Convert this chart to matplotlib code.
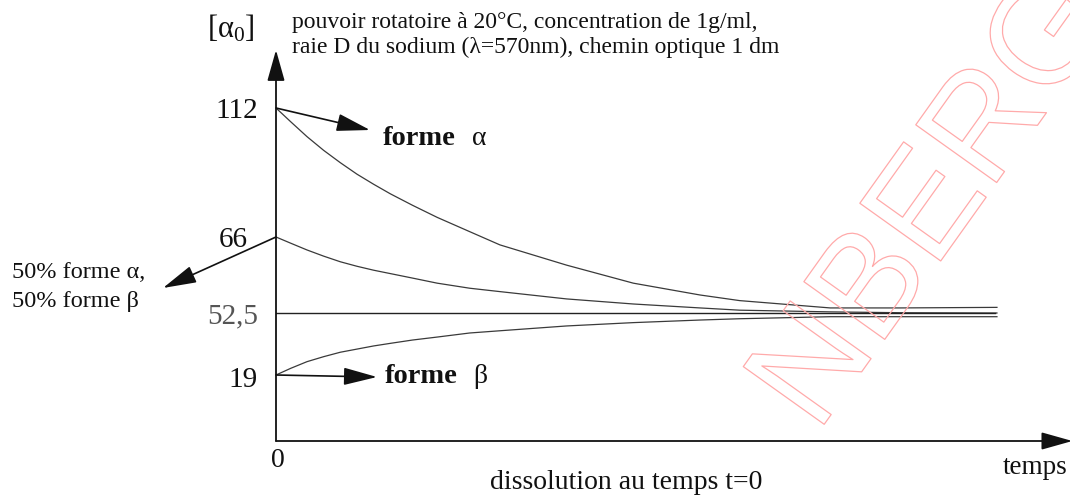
import matplotlib
matplotlib.use("Agg")
import matplotlib.pyplot as plt
import matplotlib.patheffects as pe
import numpy as np

plt.rcParams['font.family'] = ['Liberation Serif', 'DejaVu Serif']
plt.rcParams['mathtext.fontset'] = 'custom'
plt.rcParams['mathtext.rm'] = 'Liberation Serif'

# time after dissolution (arbitrary units) and specific rotation
t = [0, 0.185, 0.39, 0.60, 0.81, 1.02, 1.23, 1.44, 1.72, 2.03, 2.44, 2.82,
     3.66, 4.50, 5.34, 5.84, 6.98, 7.86, 9.08]
alpha_form = [112, 107.1, 101.8, 96.9, 92.5, 88.4, 84.8, 81.4, 77.3, 73.0, 67.9, 64.6,
              61.0, 57.8, 55.7, 54.7, 53.4, 53.4, 53.5]
mix_form = [66, 64.9, 63.7, 62.6, 61.6, 60.8, 60.1, 59.5, 58.7, 57.8, 56.9, 56.3,
            55.0, 54.1, 53.4, 53.0, 52.7, 52.55, 52.5]
beta_form = [19, 22.6, 26.2, 28.9, 31.3, 33.0, 34.7, 36.1, 37.9, 39.5, 41.7, 42.9,
             45.5, 47.3, 48.7, 49.4, 50.5, 50.5, 50.5]
equilibrium = 52.5
t_end = 9.06

tick_vals = [112, 66, 52.5, 19]
tick_labels = ["112", "66", "52,5", "19"]

W, H = 1070, 497

# the sketch is not to scale on the vertical axis: piecewise linear scale
scale_vals = [0, 19, 52.5, 66, 112, 150]
scale_pos = [0, 66, 128, 204, 333, 439.6]
fwd = lambda v: np.interp(v, scale_vals, scale_pos)
inv = lambda p: np.interp(p, scale_pos, scale_vals)

fig = plt.figure(figsize=(W / 100, H / 100), dpi=100)
ax = fig.add_axes([276 / W, (H - 441) / H, 794 / W, 391 / H])
ax.set_yscale('function', functions=(fwd, inv))
ax.set_xlim(0, 10)
ax.set_ylim(0, float(inv(391)))
ax.set_axis_off()

line_col = '#3a3a3a'
ax.plot(t, alpha_form, color=line_col, lw=0.9)
ax.plot(t, mix_form, color=line_col, lw=0.9)
ax.plot(t, beta_form, color=line_col, lw=0.9)
ax.plot([0, t_end], [equilibrium, equilibrium], color='#222222', lw=1.0)

# axes with arrow heads
ax_arrow = dict(arrowstyle='-|>,head_length=1.6,head_width=0.45', lw=1.3,
                color='#111111', mutation_scale=12, shrinkA=0, shrinkB=0)
ax.annotate('', xy=(0, 1), xytext=(0, 0), xycoords='axes fraction',
            arrowprops=ax_arrow, annotation_clip=False)
ax.annotate('', xy=(1.003, 0), xytext=(0, 0), xycoords='axes fraction',
            arrowprops=ax_arrow, annotation_clip=False)

# tick labels
offsets = {"112": (-18, -10), "66": (-28, -10), "52,5": (-18, -10), "19": (-18, -12)}
for v, lab in zip(tick_vals, tick_labels):
    ax.annotate(lab, xy=(0, v), xytext=offsets[lab], textcoords='offset pixels',
                ha='right', va='baseline', fontsize=21,
                color='#555555' if lab == "52,5" else '#111111', annotation_clip=False)
ax.annotate("0", xy=(0, 0), xytext=(2, -26), textcoords='offset pixels',
            ha='center', va='baseline', fontsize=20, color='#111111', annotation_clip=False)

# pointer arrows from the starting values
ptr = dict(arrowstyle='-|>,head_length=1.6,head_width=0.42', lw=1.2,
           color='#111111', mutation_scale=13, shrinkA=0, shrinkB=0)
ax.annotate('', xy=(370, H - 130), xycoords='figure pixels',
            xytext=(t[0], alpha_form[0]), textcoords='data', arrowprops=ptr, annotation_clip=False)
ax.annotate('', xy=(163, H - 288), xycoords='figure pixels',
            xytext=(t[0], mix_form[0]), textcoords='data', arrowprops=ptr, annotation_clip=False)
ax.annotate('', xy=(377, H - 377), xycoords='figure pixels',
            xytext=(t[0], beta_form[0]), textcoords='data', arrowprops=ptr, annotation_clip=False)

def ftext(x, y, s, **kw):
    kw.setdefault('color', '#111111')
    fig.text(x / W, 1 - y / H, s, va='baseline', **kw)

ftext(207, 38, r'$\mathrm{[α_0]}$', fontsize=22)
ftext(292, 28, "pouvoir rotatoire à 20°C, concentration de 1g/ml,", fontsize=17)
ftext(292, 53, "raie D du sodium (λ=570nm), chemin optique 1 dm", fontsize=17)
ftext(383, 145, "forme", fontsize=20.5, fontweight='bold')
ftext(472, 145, "α", fontsize=20)
ftext(385, 383, "forme", fontsize=20.5, fontweight='bold')
ftext(473, 383, "β", fontsize=20)
ftext(12, 278, "50% forme α,", fontsize=17.5)
ftext(12, 307, "50% forme β", fontsize=17.5)
ftext(1003, 474, "temps", fontsize=19.5)
ftext(490, 489, "dissolution au temps t=0", fontsize=20)

# outlined watermark
fig.text(936 / W, 1 - 203 / H, "NBERG", family='Liberation Sans', fontsize=104,
         rotation=54.5, rotation_mode='anchor', ha='center', va='center',
         color='none', path_effects=[pe.Stroke(linewidth=0.9, foreground='#ffaaaa')])

fig.savefig("out.png", dpi=100)
